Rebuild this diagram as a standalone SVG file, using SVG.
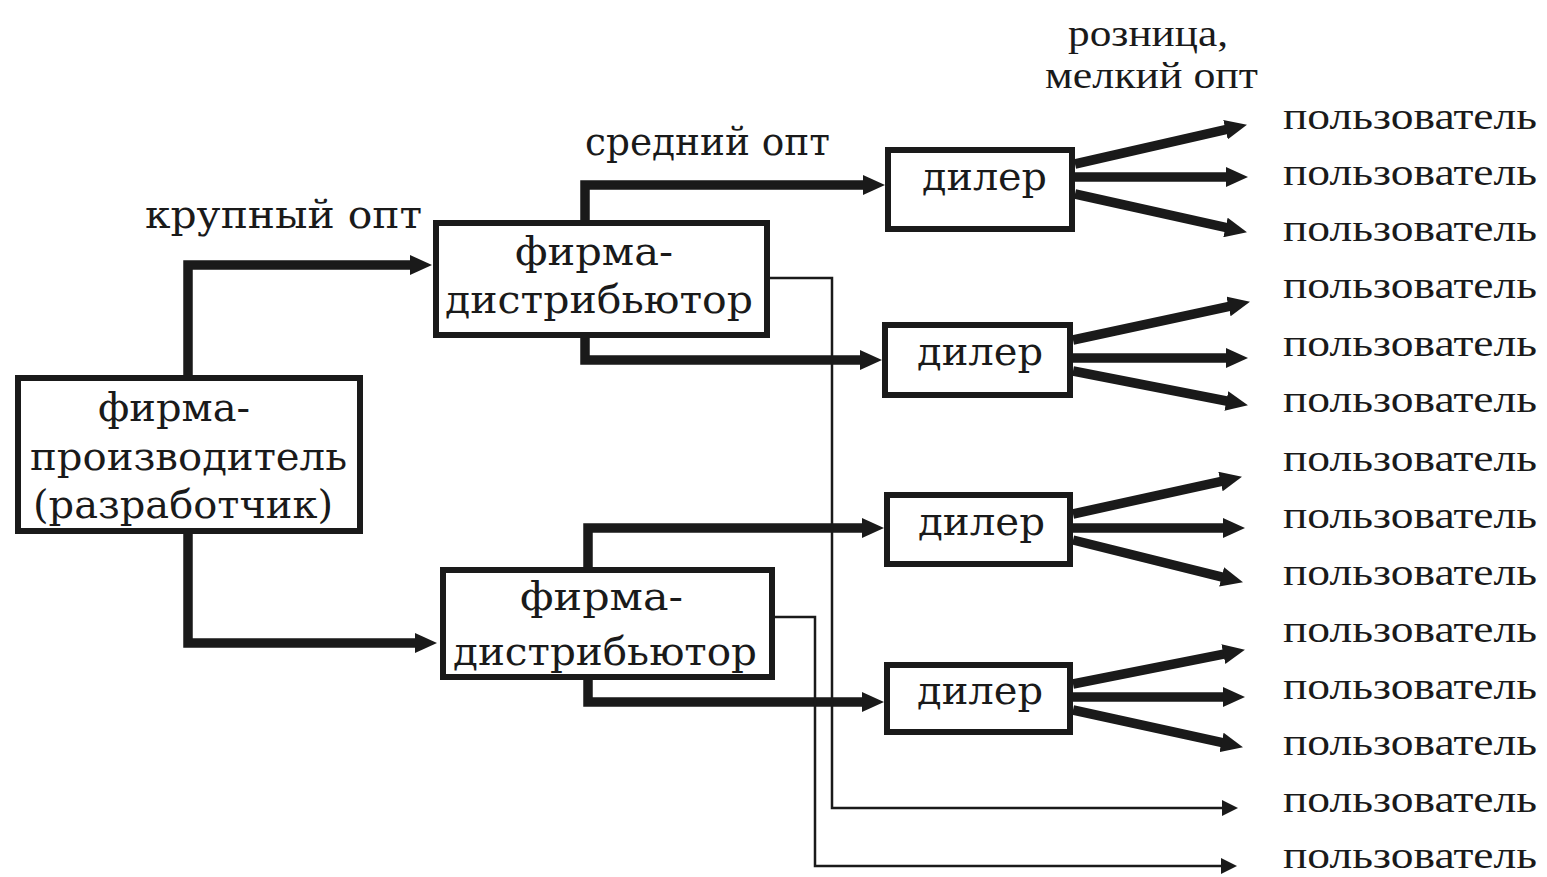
<svg xmlns="http://www.w3.org/2000/svg" width="1547" height="877" viewBox="0 0 1547 877">
<defs>
<style>
.box{fill:#fff;stroke:#1a1a1a;stroke-width:6}
.lbl{font-family:"DejaVu Serif","Liberation Serif",serif;font-size:40px;fill:#1a1a1a}
.usr{font-family:"Liberation Serif","DejaVu Serif",serif;font-size:38px;fill:#1a1a1a}
.thick{fill:none;stroke:#1a1a1a;stroke-width:9.5;stroke-linejoin:miter}
.thin{fill:none;stroke:#1a1a1a;stroke-width:2.5;stroke-linejoin:miter}
</style>
<marker id="ah" markerUnits="userSpaceOnUse" markerWidth="22" markerHeight="20" refX="8" refY="10" orient="auto">
<path d="M0,0 L22,10 L0,20 z" fill="#1a1a1a"/>
</marker>
<marker id="ahs" markerUnits="userSpaceOnUse" markerWidth="16" markerHeight="16" refX="6" refY="8" orient="auto">
<path d="M0,0 L16,8 L0,16 z" fill="#1a1a1a"/>
</marker>
</defs>
<rect width="1547" height="877" fill="#fff"/>

<g id="connectors">
<path class="thick" d="M188,378 V265 H418" marker-end="url(#ah)"/>
<path class="thick" d="M188,533 V643 H423" marker-end="url(#ah)"/>
<path class="thick" d="M585,222 V185 H871" marker-end="url(#ah)"/>
<path class="thick" d="M585,336 V360 H868" marker-end="url(#ah)"/>
<path class="thick" d="M588,569 V528 H870" marker-end="url(#ah)"/>
<path class="thick" d="M588,678 V702 H870" marker-end="url(#ah)"/>
<path class="thin" d="M770,278 H832 V808 H1228" marker-end="url(#ahs)"/>
<path class="thin" d="M775,617 H815 V866 H1227" marker-end="url(#ahs)"/>
<path class="thick" d="M1075,164 L1233.3,127.9" marker-end="url(#ah)"/>
<path class="thick" d="M1075,177 L1234,177" marker-end="url(#ah)"/>
<path class="thick" d="M1075,194 L1233.3,229.2" marker-end="url(#ah)"/>
<path class="thick" d="M1073,340 L1236.3,304.8" marker-end="url(#ah)"/>
<path class="thick" d="M1073,358 L1234,358" marker-end="url(#ah)"/>
<path class="thick" d="M1073,371 L1234.2,402.5" marker-end="url(#ah)"/>
<path class="thick" d="M1073,514 L1228.3,479.8" marker-end="url(#ah)"/>
<path class="thick" d="M1073,528 L1231,528" marker-end="url(#ah)"/>
<path class="thick" d="M1073,540 L1229.4,578.8" marker-end="url(#ah)"/>
<path class="thick" d="M1073,684 L1231.2,652.6" marker-end="url(#ah)"/>
<path class="thick" d="M1073,697 L1231,697" marker-end="url(#ah)"/>
<path class="thick" d="M1073,710 L1229.3,744.2" marker-end="url(#ah)"/>
</g>

<g id="producer">
<rect class="box" x="18" y="378" width="342" height="153"/>
<text class="lbl" x="98" y="421" textLength="152" lengthAdjust="spacingAndGlyphs">фирма-</text>
<text class="lbl" x="30" y="470" textLength="317" lengthAdjust="spacingAndGlyphs">производитель</text>
<text class="lbl" x="33" y="518" textLength="300" lengthAdjust="spacingAndGlyphs">(разработчик)</text>
</g>

<g id="distributor1">
<rect class="box" x="436" y="223" width="331" height="112"/>
<text class="lbl" x="515" y="265" textLength="158" lengthAdjust="spacingAndGlyphs">фирма-</text>
<text class="lbl" x="445" y="313" textLength="308" lengthAdjust="spacingAndGlyphs">дистрибьютор</text>
</g>

<g id="distributor2">
<rect class="box" x="443" y="570" width="329" height="107"/>
<text class="lbl" x="520" y="610" textLength="163" lengthAdjust="spacingAndGlyphs">фирма-</text>
<text class="lbl" x="453" y="665" textLength="304" lengthAdjust="spacingAndGlyphs">дистрибьютор</text>
</g>

<g id="dealer1">
<rect class="box" x="888" y="150" width="184" height="79"/>
<text class="lbl" x="922" y="190" textLength="125" lengthAdjust="spacingAndGlyphs">дилер</text>
</g>
<g id="dealer2">
<rect class="box" x="885" y="325" width="185" height="70"/>
<text class="lbl" x="917" y="365" textLength="126" lengthAdjust="spacingAndGlyphs">дилер</text>
</g>
<g id="dealer3">
<rect class="box" x="887" y="495" width="183" height="69"/>
<text class="lbl" x="918" y="535" textLength="127" lengthAdjust="spacingAndGlyphs">дилер</text>
</g>
<g id="dealer4">
<rect class="box" x="887" y="665" width="183" height="67"/>
<text class="lbl" x="917" y="704" textLength="126" lengthAdjust="spacingAndGlyphs">дилер</text>
</g>

<g id="labels">
<text class="lbl" x="145" y="228" textLength="277" lengthAdjust="spacingAndGlyphs">крупный опт</text>
<text class="lbl" x="585" y="155" textLength="245" lengthAdjust="spacingAndGlyphs">средний опт</text>
<text class="usr" x="1068" y="46" textLength="160" lengthAdjust="spacingAndGlyphs">розница,</text>
<text class="usr" x="1045" y="88" textLength="213" lengthAdjust="spacingAndGlyphs">мелкий опт</text>
</g>

<g id="users">
<text class="usr" x="1283" y="129" textLength="254" lengthAdjust="spacingAndGlyphs">пользователь</text>
<text class="usr" x="1283" y="185" textLength="254" lengthAdjust="spacingAndGlyphs">пользователь</text>
<text class="usr" x="1283" y="241" textLength="254" lengthAdjust="spacingAndGlyphs">пользователь</text>
<text class="usr" x="1283" y="298" textLength="254" lengthAdjust="spacingAndGlyphs">пользователь</text>
<text class="usr" x="1283" y="356" textLength="254" lengthAdjust="spacingAndGlyphs">пользователь</text>
<text class="usr" x="1283" y="412" textLength="254" lengthAdjust="spacingAndGlyphs">пользователь</text>
<text class="usr" x="1283" y="471" textLength="254" lengthAdjust="spacingAndGlyphs">пользователь</text>
<text class="usr" x="1283" y="528" textLength="254" lengthAdjust="spacingAndGlyphs">пользователь</text>
<text class="usr" x="1283" y="585" textLength="254" lengthAdjust="spacingAndGlyphs">пользователь</text>
<text class="usr" x="1283" y="642" textLength="254" lengthAdjust="spacingAndGlyphs">пользователь</text>
<text class="usr" x="1283" y="699" textLength="254" lengthAdjust="spacingAndGlyphs">пользователь</text>
<text class="usr" x="1283" y="755" textLength="254" lengthAdjust="spacingAndGlyphs">пользователь</text>
<text class="usr" x="1283" y="812" textLength="254" lengthAdjust="spacingAndGlyphs">пользователь</text>
<text class="usr" x="1283" y="868" textLength="254" lengthAdjust="spacingAndGlyphs">пользователь</text>
</g>
</svg>
